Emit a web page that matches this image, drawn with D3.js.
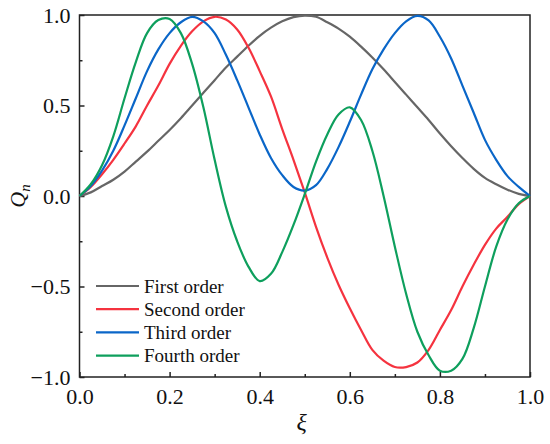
<!DOCTYPE html>
<html>
<head>
<meta charset="utf-8">
<script src="https://cdn.jsdelivr.net/npm/d3@7"></script>
<style>
  html, body { margin: 0; padding: 0; background: #fff; }
  svg { display: block; }
</style>
</head>
<body>
<svg id="chart" width="550" height="444"></svg>
<script>
// ---- data ----
const xi = [0, 0.025, 0.05, 0.075, 0.1, 0.125, 0.15, 0.175, 0.2, 0.225, 0.25, 0.275, 0.3, 0.325, 0.35, 0.375, 0.4, 0.425, 0.45, 0.475, 0.5,
            0.525, 0.55, 0.575, 0.6, 0.625, 0.65, 0.675, 0.7, 0.725, 0.75, 0.775, 0.8, 0.825, 0.85, 0.875, 0.9, 0.925, 0.95, 0.975, 1];
const firstOrder  = [0, 0.02, 0.055, 0.09, 0.135, 0.19, 0.245, 0.305, 0.365, 0.43, 0.5, 0.57, 0.64, 0.71, 0.77, 0.83, 0.885, 0.93, 0.965, 0.988, 0.997,
                     0.99, 0.96, 0.925, 0.88, 0.825, 0.765, 0.7, 0.63, 0.56, 0.49, 0.42, 0.345, 0.275, 0.21, 0.15, 0.1, 0.065, 0.035, 0.012, 0];
const secondOrder = [0, 0.05, 0.12, 0.2, 0.29, 0.385, 0.5, 0.61, 0.73, 0.83, 0.91, 0.965, 0.99, 0.975, 0.92, 0.82, 0.69, 0.55, 0.37, 0.2, 0.02,
                     -0.17, -0.34, -0.49, -0.62, -0.74, -0.85, -0.91, -0.945, -0.945, -0.92, -0.85, -0.74, -0.63, -0.5, -0.38, -0.27, -0.18, -0.115, -0.045, 0];
const thirdOrder  = [0, 0.055, 0.14, 0.25, 0.39, 0.54, 0.69, 0.81, 0.9, 0.96, 0.99, 0.965, 0.9, 0.78, 0.64, 0.49, 0.34, 0.21, 0.115, 0.05, 0.03,
                     0.06, 0.15, 0.27, 0.41, 0.56, 0.7, 0.81, 0.9, 0.965, 0.995, 0.97, 0.88, 0.76, 0.61, 0.46, 0.31, 0.2, 0.11, 0.05, 0];
const fourthOrder = [0, 0.065, 0.17, 0.33, 0.54, 0.74, 0.9, 0.972, 0.978, 0.9, 0.73, 0.49, 0.2, -0.06, -0.25, -0.39, -0.47, -0.43, -0.31, -0.16, 0.01,
                     0.19, 0.34, 0.45, 0.49, 0.42, 0.25, 0.0, -0.28, -0.54, -0.75, -0.88, -0.965, -0.965, -0.9, -0.73, -0.5, -0.28, -0.13, -0.04, 0];
const seriesNames = ["First order", "Second order", "Third order", "Fourth order"];
const seriesColors = ["#666666", "#f5333f", "#0a66c8", "#0e9f5d"];
const xTicks = [0, 0.2, 0.4, 0.6, 0.8, 1.0];
const yTicks = [-1.0, -0.5, 0.0, 0.5, 1.0];

const seriesValues = [firstOrder, secondOrder, thirdOrder, fourthOrder];

// ---- layout ----
const FONT = "Liberation Serif";
const svg = d3.select("#chart");

const x = d3.scaleLinear().domain([0, 1]).range([79.5, 530]);
const y = d3.scaleLinear().domain([-1, 1]).range([377, 15]);
const fmt = d3.format(".1f");
const minus = s => s.replace("-", "\u2212");

// plot frame
svg.append("rect")
  .attr("x", x(0)).attr("y", y(1))
  .attr("width", x(1) - x(0)).attr("height", y(-1) - y(1))
  .attr("fill", "none").attr("stroke", "#222").attr("stroke-width", 1.5);

// x axis (ticks inward)
const xAxis = d3.axisBottom(x).tickValues(xTicks).tickSize(-5).tickPadding(10).tickFormat(d => fmt(d));
const gx = svg.append("g").attr("transform", `translate(0,${y(-1)})`).call(xAxis);
gx.attr("font-family", null).attr("font-size", null);
gx.select(".domain").remove();
gx.selectAll(".tick line").attr("stroke", "#222").attr("stroke-width", 1.5);
gx.selectAll(".tick text").style("font-family", FONT).style("font-size", "22px").attr("fill", "#111").attr("dy", "0.75em");
const xMinor = d3.axisBottom(x).tickValues(d3.range(0.1, 1, 0.2)).tickSize(-3).tickFormat("");
const gxm = svg.append("g").attr("transform", `translate(0,${y(-1)})`).call(xMinor);
gxm.select(".domain").remove();
gxm.selectAll(".tick line").attr("stroke", "#222").attr("stroke-width", 1.5);

// y axis
const yAxis = d3.axisLeft(y).tickValues(yTicks).tickSize(-5).tickPadding(9).tickFormat(d => minus(fmt(d)));
const gy = svg.append("g").attr("transform", `translate(${x(0)},0)`).call(yAxis);
gy.attr("font-family", null).attr("font-size", null);
gy.select(".domain").remove();
gy.selectAll(".tick line").attr("stroke", "#222").attr("stroke-width", 1.5);
gy.selectAll(".tick text").style("font-family", FONT).style("font-size", "22px").attr("fill", "#111");
const yMinor = d3.axisLeft(y).tickValues([-0.75, -0.25, 0.25, 0.75]).tickSize(-3).tickFormat("");
const gym = svg.append("g").attr("transform", `translate(${x(0)},0)`).call(yMinor);
gym.select(".domain").remove();
gym.selectAll(".tick line").attr("stroke", "#222").attr("stroke-width", 1.5);

// curves
const line = d3.line().x(d => x(d[0])).y(d => y(d[1])).curve(d3.curveCatmullRom.alpha(0.5));
const plot = svg.append("g");
seriesValues.forEach((vals, i) => {
  plot.append("path")
    .datum(xi.map((v, j) => [v, vals[j]]))
    .attr("fill", "none")
    .attr("stroke", seriesColors[i])
    .attr("stroke-width", 2.2)
    .attr("stroke-linejoin", "round")
    .attr("d", line);
});

// axis titles
const yt = svg.append("text")
  .attr("transform", `translate(25,${(y(1) + y(-1)) / 2}) rotate(-90)`)
  .attr("text-anchor", "middle")
  .style("font-family", FONT).style("font-size", "22px").style("font-style", "italic").attr("fill", "#111");
yt.append("tspan").text("Q");
yt.append("tspan").style("font-size", "15px").attr("dy", 5).text("n");

svg.append("text")
  .attr("x", (x(0) + x(1)) / 2 - 3).attr("y", 430)
  .attr("text-anchor", "middle")
  .style("font-family", FONT).style("font-size", "24px").style("font-style", "italic").attr("fill", "#111")
  .text("\u03BE");

// legend
const lg = svg.append("g");
seriesNames.forEach((name, i) => {
  const ly = 286 + i * 23.2;
  lg.append("line").attr("x1", 96).attr("x2", 139).attr("y1", ly).attr("y2", ly)
    .attr("stroke", seriesColors[i]).attr("stroke-width", 2.2);
  lg.append("text").attr("x", 144).attr("y", ly).attr("dy", "0.35em")
    .style("font-family", FONT).style("font-size", "19px").attr("fill", "#111").text(name);
});
</script>
</body>
</html>
